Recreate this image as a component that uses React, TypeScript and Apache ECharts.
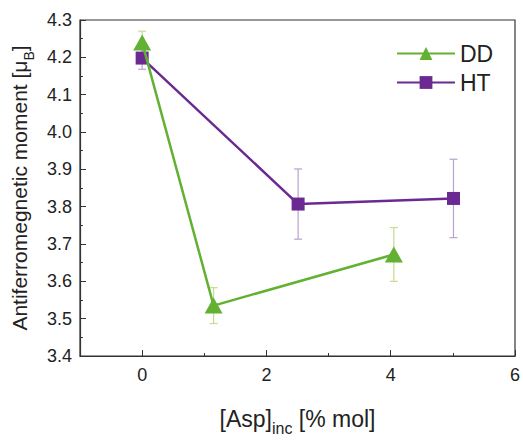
import React, { useEffect, useRef } from "react";
import * as echarts from "echarts";

const ddX = [0, 1.15, 4.05];
const ddY = [4.24, 3.535, 3.672];
const ddErr = [0.03, 0.048, 0.072];

const htX = [0, 2.51, 5.01];
const htY = [4.198, 3.807, 3.822];
const htErr = [0.03, 0.094, 0.105];

const xMajorTicks = [0, 2, 4, 6];
const xMinorTicks = [1, 3, 5];

const GREEN = "#62b133";
const PURPLE = "#6a2a92";
const GREEN_ERR = "#c5dc8c";
const PURPLE_ERR = "#b9a2cc";
const FONT = "Liberation Sans, Arial, sans-serif";

function errData(xs: number[], ys: number[], es: number[]) {
  return xs.map((x, i) => [x, ys[i] - es[i], ys[i] + es[i]]);
}

function errRender(color: string) {
  return (params: any, api: any) => {
    const x = api.value(0);
    const lo = api.coord([x, api.value(1)]);
    const hi = api.coord([x, api.value(2)]);
    const cap = 4;
    const style = { stroke: color, lineWidth: 1.2 };
    return {
      type: "group",
      children: [
        { type: "line", shape: { x1: lo[0], y1: lo[1], x2: hi[0], y2: hi[1] }, style },
        { type: "line", shape: { x1: lo[0] - cap, y1: lo[1], x2: lo[0] + cap, y2: lo[1] }, style },
        { type: "line", shape: { x1: hi[0] - cap, y1: hi[1], x2: hi[0] + cap, y2: hi[1] }, style },
      ],
    };
  };
}

export default function App() {
  const ref = useRef<HTMLDivElement>(null);
  useEffect(() => {
    if (!ref.current) return;
    const chart = echarts.init(ref.current, undefined, { renderer: "svg" });
    const axisColor = "#333";
    chart.setOption({
      animation: false,
      backgroundColor: "#fff",
      textStyle: { fontFamily: FONT },
      grid: {
        left: 80,
        right: 5,
        top: 20,
        bottom: 68,
        show: true,
        borderColor: axisColor,
        borderWidth: 1.2,
        containLabel: false,
      },
      legend: {
        orient: "vertical",
        left: 396,
        top: 42,
        padding: 0,
        itemWidth: 58,
        itemHeight: 16,
        itemGap: 6,
        data: ["DD", "HT"],
        textStyle: { fontSize: 23, color: "#222", fontFamily: FONT },
      },
      xAxis: [
        {
          type: "value",
          min: -1,
          max: 6,
          splitLine: { show: false },
          axisLine: { show: true, onZero: false, lineStyle: { color: axisColor, width: 1.2 } },
          axisTick: { show: true, inside: true, length: 6, customValues: xMajorTicks, lineStyle: { color: axisColor } },
          axisLabel: { customValues: xMajorTicks, fontSize: 18, color: "#222", margin: 10, fontFamily: FONT },
          name: "{a|[Asp]}{s|inc}{a| [% mol]}",
          nameLocation: "middle",
          nameGap: 46,
          nameTextStyle: {
            rich: {
              a: { fontSize: 23, fontFamily: FONT, color: "#222", lineHeight: 28, verticalAlign: "bottom" },
              s: { fontSize: 16, fontFamily: FONT, color: "#222", lineHeight: 28, verticalAlign: "bottom", padding: [0, 0, -6, 0] },
            },
          },
        },
        {
          type: "value",
          min: -1,
          max: 6,
          position: "bottom",
          splitLine: { show: false },
          axisLine: { show: false, onZero: false },
          axisTick: { show: true, inside: true, length: 3, customValues: xMinorTicks, lineStyle: { color: axisColor } },
          axisLabel: { show: false },
        },
      ],
      yAxis: {
        type: "value",
        min: 3.4,
        max: 4.3,
        interval: 0.1,
        splitLine: { show: false },
        axisLine: { show: true, onZero: false, lineStyle: { color: axisColor, width: 1.2 } },
        axisTick: { show: true, inside: true, length: 6, lineStyle: { color: axisColor } },
        minorTick: { show: true, splitNumber: 2, length: 3, lineStyle: { color: axisColor } },
        minorSplitLine: { show: false },
        axisLabel: {
          fontSize: 18,
          color: "#222",
          margin: 8,
          fontFamily: FONT,
          formatter: (v: number) => v.toFixed(1),
        },
        name: "{a|Antiferromegnetic moment [μ}{s|B}{a|]}",
        nameLocation: "middle",
        nameGap: 46,
        nameRotate: 90,
        nameTextStyle: {
          rich: {
            a: { fontSize: 21, fontFamily: FONT, color: "#222", lineHeight: 26, verticalAlign: "bottom" },
            s: { fontSize: 14, fontFamily: FONT, color: "#222", lineHeight: 26, verticalAlign: "bottom", padding: [0, 0, -6, 0] },
          },
        },
      },
      series: [
        {
          type: "custom",
          name: "DD err",
          xAxisIndex: 0,
          renderItem: errRender(GREEN_ERR),
          data: errData(ddX, ddY, ddErr),
          encode: { x: 0, y: [1, 2] },
          z: 1,
          silent: true,
        },
        {
          type: "custom",
          name: "HT err",
          xAxisIndex: 0,
          renderItem: errRender(PURPLE_ERR),
          data: errData(htX, htY, htErr),
          encode: { x: 0, y: [1, 2] },
          z: 1,
          silent: true,
        },
        {
          type: "line",
          name: "DD",
          xAxisIndex: 0,
          data: ddX.map((x, i) => [x, ddY[i]]),
          symbol: "triangle",
          symbolSize: [18, 16],
          color: GREEN,
          itemStyle: { color: GREEN },
          lineStyle: { color: GREEN, width: 2.5 },
          z: 3,
        },
        {
          type: "line",
          name: "HT",
          xAxisIndex: 0,
          data: htX.map((x, i) => [x, htY[i]]),
          symbol: "rect",
          symbolSize: 13,
          color: PURPLE,
          itemStyle: { color: PURPLE },
          lineStyle: { color: PURPLE, width: 2.5 },
          z: 2,
        },
      ],
    });
    return () => chart.dispose();
  }, []);
  return (
    <div
      ref={ref}
      style={{ position: "fixed", left: 0, top: 0, width: 523, height: 441 }}
    />
  );
}
